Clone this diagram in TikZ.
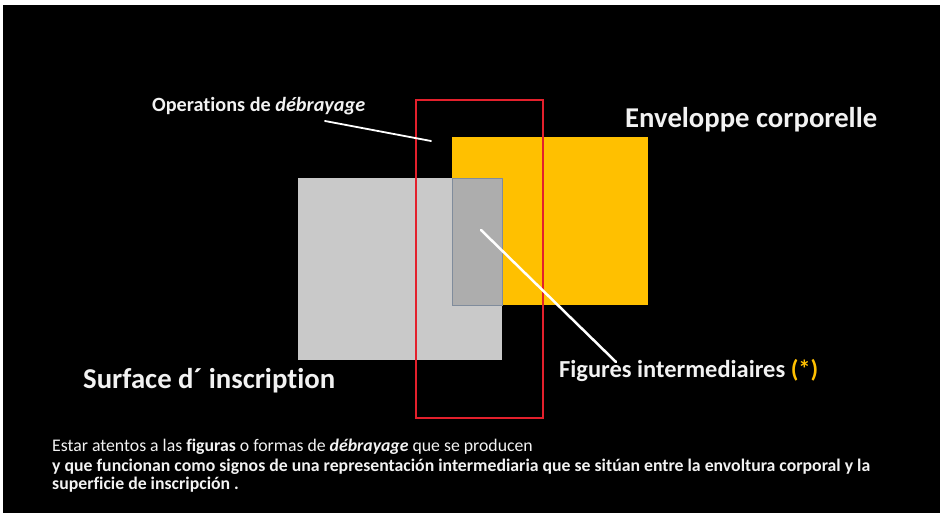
\documentclass[tikz,border=0pt]{standalone}
\usepackage{graphicx}
\usepackage{fontspec}
\setmainfont{Carlito}[Ligatures=NoCommon]
\definecolor{grayfill}{HTML}{C9C9C9}
\definecolor{overlapfill}{HTML}{ADADAD}
\definecolor{overlapline}{HTML}{808C9C}
\definecolor{yellowfill}{HTML}{FFC000}
\definecolor{redline}{HTML}{E3202C}
\definecolor{txt}{HTML}{F2F2F2}
\newsavebox\myLineTwo
\newcommand\myLineTwoText{y que funcionan como signos de una representación intermediaria que se sitúan entre la envoltura corporal y la}
\begin{document}
\sbox\myLineTwo{\bfseries\myLineTwoText}%
\pgfmathsetmacro\myfac{818/\the\wd\myLineTwo}%
\begin{tikzpicture}[x=1pt,y=-1pt,
  lbl/.style={anchor=base west, inner sep=0pt, text=txt, font=\bfseries},
  body/.style={anchor=base west, inner sep=0pt, text=txt},
  pointer/.style={draw=white, line cap=round}]
\useasboundingbox (0,0) rectangle (940,513);
\fill[white] (0,0) rectangle (940,513);
\fill[black] (3,5) rectangle (940,513);
% shapes
\fill[grayfill] (298,178) rectangle (502,360);
\fill[yellowfill] (452,137) rectangle (648,305);
\filldraw[fill=overlapfill, draw=overlapline, line width=0.8pt] (452,178) rectangle (502,305);
\draw[redline, line width=2pt] (416,100) rectangle (543,418);
% labels
\node[lbl] (ops) at (152,112) {\resizebox{213pt}{!}{Operations de \textit{débrayage}}};
\node[lbl] (env) at (625,128) {\resizebox{252pt}{!}{Enveloppe corporelle}};
\node[lbl] (surf) at (83,388) {\resizebox{252pt}{!}{Surface d´ inscription}};
\node[lbl] (fig) at (559,377) {\resizebox{259pt}{!}{Figures intermediaires \textcolor{yellowfill}{(*)}}};
\node[body] (l1) at (52,451) {\scalebox{\myfac}{Estar atentos a las \textbf{figuras} o formas de \textbf{\textit{débrayage}} que se producen}};
\node[body, font=\bfseries] (l2) at (52,471) {\scalebox{\myfac}{\myLineTwoText}};
\node[body, font=\bfseries] (l3) at (52,489) {\scalebox{\myfac}{superficie de inscripción .}};
% pointers
\coordinate (opsA) at (325,121);
\coordinate (opsB) at (431,141);
\coordinate (figA) at (481,230);
\coordinate (figB) at (616,362);
\draw[pointer, line width=1.8pt] (opsA) -- (opsB);
\draw[pointer, line width=2.5pt] (figA) -- (figB);
\end{tikzpicture}
\end{document}
